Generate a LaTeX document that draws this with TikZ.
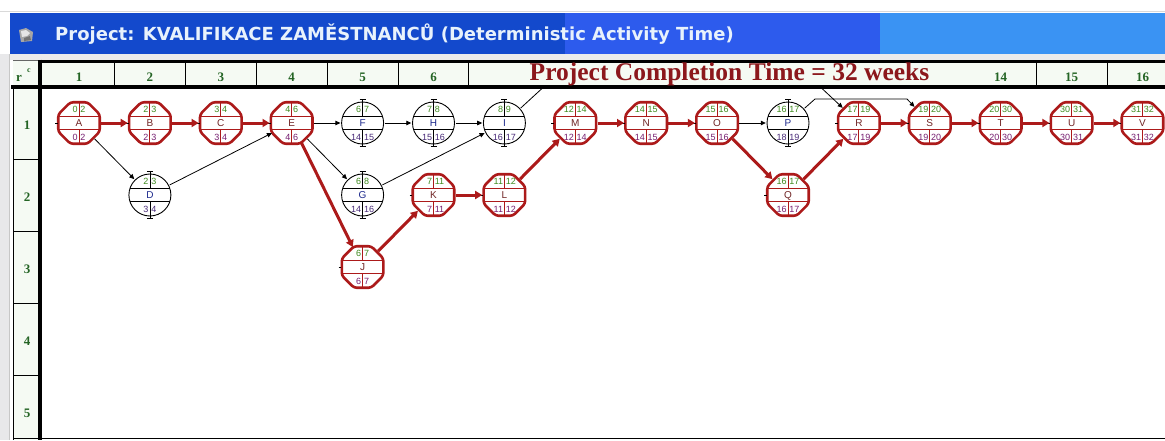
\documentclass[tikz,border=0pt]{standalone}
\usepackage{fontspec}
\setmainfont{Liberation Serif}
\newfontfamily\uisans{Liberation Sans}
\newfontfamily\barfont{DejaVu Sans}
\usetikzlibrary{arrows.meta}

\definecolor{critred}{RGB}{172,26,26}
\definecolor{hdrgreen}{RGB}{36,100,36}
\definecolor{esgreen}{RGB}{62,138,30}
\definecolor{lspurple}{RGB}{118,30,112}
\definecolor{ncpurple}{RGB}{72,42,120}
\definecolor{ncnavy}{RGB}{28,40,140}
\definecolor{critletter}{RGB}{112,36,36}
\definecolor{titledark}{RGB}{19,73,204}
\definecolor{titlemid}{RGB}{45,91,237}
\definecolor{titlelight}{RGB}{58,147,243}
\definecolor{titletext}{RGB}{232,242,252}
\definecolor{labelred}{RGB}{140,24,28}
\definecolor{cellbg}{RGB}{245,250,243}
\definecolor{framegrey}{RGB}{232,232,234}

\tikzset{
  slot/.style={circle, minimum size=44pt, inner sep=0pt, draw=none},
  critring/.style={fill=white, draw=critred, line width=2.6pt, line join=round, rounded corners=3pt},
  critdiv/.style={draw=critred, line width=0.9pt},
  freering/.style={fill=white, draw=black, line width=0.9pt},
  freediv/.style={draw=black, line width=0.8pt},
  stub/.style={draw=black, line width=0.7pt},
  esnum/.style={font=\uisans\fontsize{9}{9}\selectfont, text=esgreen, inner sep=0pt},
  lsnum/.style={font=\uisans\fontsize{9}{9}\selectfont, text=lspurple, inner sep=0pt},
  freels/.style={font=\uisans\fontsize{9}{9}\selectfont, text=ncpurple, inner sep=0pt},
  actletter/.style={font=\uisans\fontsize{10}{10}\selectfont, inner sep=0pt},
  critedge/.style={draw=critred, line width=3pt, -{Triangle[length=7pt,width=8pt]}},
  plainedge/.style={draw=black, line width=0.8pt, -{Triangle[length=5pt,width=4.5pt]}},
  plainline/.style={draw=black, line width=0.8pt},
  hdrnum/.style={font=\bfseries\fontsize{13}{13}\selectfont, text=hdrgreen, inner sep=0pt, anchor=base},
  gridthin/.style={draw=black, line width=1pt},
}

% critical activity: name, x, y, ES, EF, letter, LS, LF
\newcommand{\critnode}[8]{%
  \begin{scope}[shift={(#2,#3)}]
    \filldraw[critring] (22.5:22.5pt) -- (67.5:22.5pt) -- (112.5:22.5pt) -- (157.5:22.5pt)
      -- (202.5:22.5pt) -- (247.5:22.5pt) -- (292.5:22.5pt) -- (337.5:22.5pt) -- cycle;
    \draw[critdiv] (-20.5,-6.5) -- (20.5,-6.5) (-20.5,6.5) -- (20.5,6.5)
      (0,-20.8) -- (0,-6.5) (0,6.5) -- (0,20.8);
    \draw[stub] (-24,0) -- (-21.2,0);
    \node[esnum, anchor=base east] at (-1.2,-10.2) {#4};
    \node[esnum, anchor=base west] at (1.2,-10.2) {#5};
    \node[actletter, text=critletter, anchor=base] at (0,3.6) {#6};
    \node[lsnum, anchor=base east] at (-1.2,17) {#7};
    \node[lsnum, anchor=base west] at (1.2,17) {#8};
  \end{scope}
  \node[slot] (#1) at (#2,#3) {};
}

% activity with slack: name, x, y, ES, EF, letter, LS, LF
\newcommand{\freenode}[8]{%
  \begin{scope}[shift={(#2,#3)}]
    \filldraw[freering] (0,0) circle (21pt);
    \draw[freediv] (-20,-6.5) -- (20,-6.5) (-20,6.5) -- (20,6.5)
      (0,-23.5) -- (0,-6.5) (0,6.5) -- (0,23.5)
      (-3,-23.5) -- (3,-23.5) (-3,23.5) -- (3,23.5);
    \node[esnum, anchor=base east] at (-1.2,-10.2) {#4};
    \node[esnum, anchor=base west] at (1.2,-10.2) {#5};
    \node[actletter, text=ncnavy, anchor=base] at (0,3.6) {#6};
    \node[freels, anchor=base east] at (-1.2,17) {#7};
    \node[freels, anchor=base west] at (1.2,17) {#8};
  \end{scope}
  \node[slot] (#1) at (#2,#3) {};
}

\begin{document}
\begin{tikzpicture}[x=1pt, y=-1pt]
\useasboundingbox (0,0) rectangle (1165,440);
\fill[white] (0,0) rectangle (1165,440);

% window frame and title bar
\fill[framegrey] (0,54) rectangle (10,440);
\draw[black!22, line width=0.8pt] (9.5,54) -- (9.5,440);
\draw[black!15, line width=0.8pt] (0,11) -- (1165,11);
\fill[titledark] (10,13) rectangle (565,54);
\fill[titlemid] (565,13) rectangle (880,54);
\fill[titlelight] (880,13) rectangle (1165,54);
\fill[black!8] (10,54) rectangle (1165,59.5);
% window icon
\fill[black!35] (19,30) -- (26,28) -- (33,32) -- (32,41) -- (21,42) -- cycle;
\fill[white!90!black] (21,31) -- (26,30) -- (30,33) -- (27,36) -- (22,37) -- cycle;
\fill[black!55] (24,38) -- (30,36) -- (31,40) -- (24,41) -- cycle;
\node[anchor=base west, inner sep=0pt, text=titletext,
      font=\barfont\bfseries\fontsize{18}{18}\selectfont] (title) at (55,40)
  {Project: KVALIFIKACE ZAMĚSTNANCŮ (Deterministic Activity Time)};

% header band and row header
\fill[cellbg] (13,61) rectangle (1165,87);
\fill[cellbg] (13,87) rectangle (40,440);
\draw[line width=3pt] (40,61) -- (1165,61);
\draw[black!60, line width=0.8pt] (13,60.5) -- (40,60.5);
\draw[line width=4pt] (11,87) -- (1165,87);
\draw[line width=4pt] (40,59.5) -- (40,440);
\draw[gridthin] (13,87) -- (13,440);
\draw[gridthin] (13,438.5) -- (1165,438.5);
\foreach \yy in {159,231,303,375} \draw[gridthin] (13,\yy) -- (40,\yy);
\foreach \xx in {114.4,185.3,256.2,327.1,398,468.9,1036.2,1107.1}
  \draw[gridthin] (\xx,62.5) -- (\xx,85);

% header labels
\node[anchor=base, inner sep=0pt, text=hdrgreen, font=\bfseries\fontsize{13}{13}\selectfont] (rc) at (19,81) {r};
\node[anchor=base, inner sep=0pt, text=hdrgreen, font=\bfseries\fontsize{8}{8}\selectfont] (rcsup) at (29,72) {c};
\foreach \k in {1,...,6} \node[hdrnum] (col\k) at ({79+70.9*(\k-1)},81) {\k};
\foreach \k in {14,15,16} \node[hdrnum] (col\k) at ({79+70.9*(\k-1)},81) {\k};
\node[anchor=base, inner sep=0pt, text=labelred, font=\bfseries\fontsize{25.5}{26}\selectfont]
  (completion) at (729.5,80) {Project Completion Time = 32 weeks};
\foreach \r in {1,...,5} \node[hdrnum] (row\r) at (27,{129.5+72*(\r-1)}) {\r};

% activities
\critnode{A}{79}{123}{0}{2}{A}{0}{2}
\critnode{B}{149.9}{123}{2}{3}{B}{2}{3}
\critnode{C}{220.8}{123}{3}{4}{C}{3}{4}
\freenode{D}{149.9}{195}{2}{3}{D}{3}{4}
\critnode{E}{291.7}{123}{4}{6}{E}{4}{6}
\freenode{F}{362.6}{123}{6}{7}{F}{14}{15}
\freenode{G}{362.6}{195}{6}{8}{G}{14}{16}
\freenode{H}{433.5}{123}{7}{8}{H}{15}{16}
\freenode{I}{504.4}{123}{8}{9}{I}{16}{17}
\critnode{J}{362.6}{267}{6}{7}{J}{6}{7}
\critnode{K}{433.5}{195}{7}{11}{K}{7}{11}
\critnode{L}{504.4}{195}{11}{12}{L}{11}{12}
\critnode{M}{575.3}{123}{12}{14}{M}{12}{14}
\critnode{N}{646.2}{123}{14}{15}{N}{14}{15}
\critnode{O}{717.1}{123}{15}{16}{O}{15}{16}
\freenode{P}{788}{123}{16}{17}{P}{18}{19}
\critnode{Q}{788}{195}{16}{17}{Q}{16}{17}
\critnode{R}{858.9}{123}{17}{19}{R}{17}{19}
\critnode{S}{929.8}{123}{19}{20}{S}{19}{20}
\critnode{T}{1000.7}{123}{20}{30}{T}{20}{30}
\critnode{U}{1071.6}{123}{30}{31}{U}{30}{31}
\critnode{V}{1142.5}{123}{31}{32}{V}{31}{32}

% routing points of the links that pass above the grid
\coordinate (itop) at (542,88.5);
\coordinate (rtop) at (822,88.5);
\coordinate (psA) at (815,99);
\coordinate (psB) at (907,99);

% links with slack
\draw[plainedge] (A) -- (D);
\draw[plainedge] (D) -- (E);
\draw[plainedge] (E) -- (F);
\draw[plainedge] (E) -- (G);
\draw[plainedge] (F) -- (H);
\draw[plainedge] (H) -- (I);
\draw[plainedge] (G) -- (I);
\draw[plainedge] (O) -- (P);
\draw[plainline] (I) -- (itop);
\draw[plainedge] (rtop) -- (R);
\draw[plainedge] (P) -- (psA) -- (psB) -- (S);

% critical path
\draw[critedge] (A) -- (B);
\draw[critedge] (B) -- (C);
\draw[critedge] (C) -- (E);
\draw[critedge] (E) -- (J);
\draw[critedge] (J) -- (K);
\draw[critedge] (K) -- (L);
\draw[critedge] (L) -- (M);
\draw[critedge] (M) -- (N);
\draw[critedge] (N) -- (O);
\draw[critedge] (O) -- (Q);
\draw[critedge] (Q) -- (R);
\draw[critedge] (R) -- (S);
\draw[critedge] (S) -- (T);
\draw[critedge] (T) -- (U);
\draw[critedge] (U) -- (V);
\end{tikzpicture}
\end{document}
